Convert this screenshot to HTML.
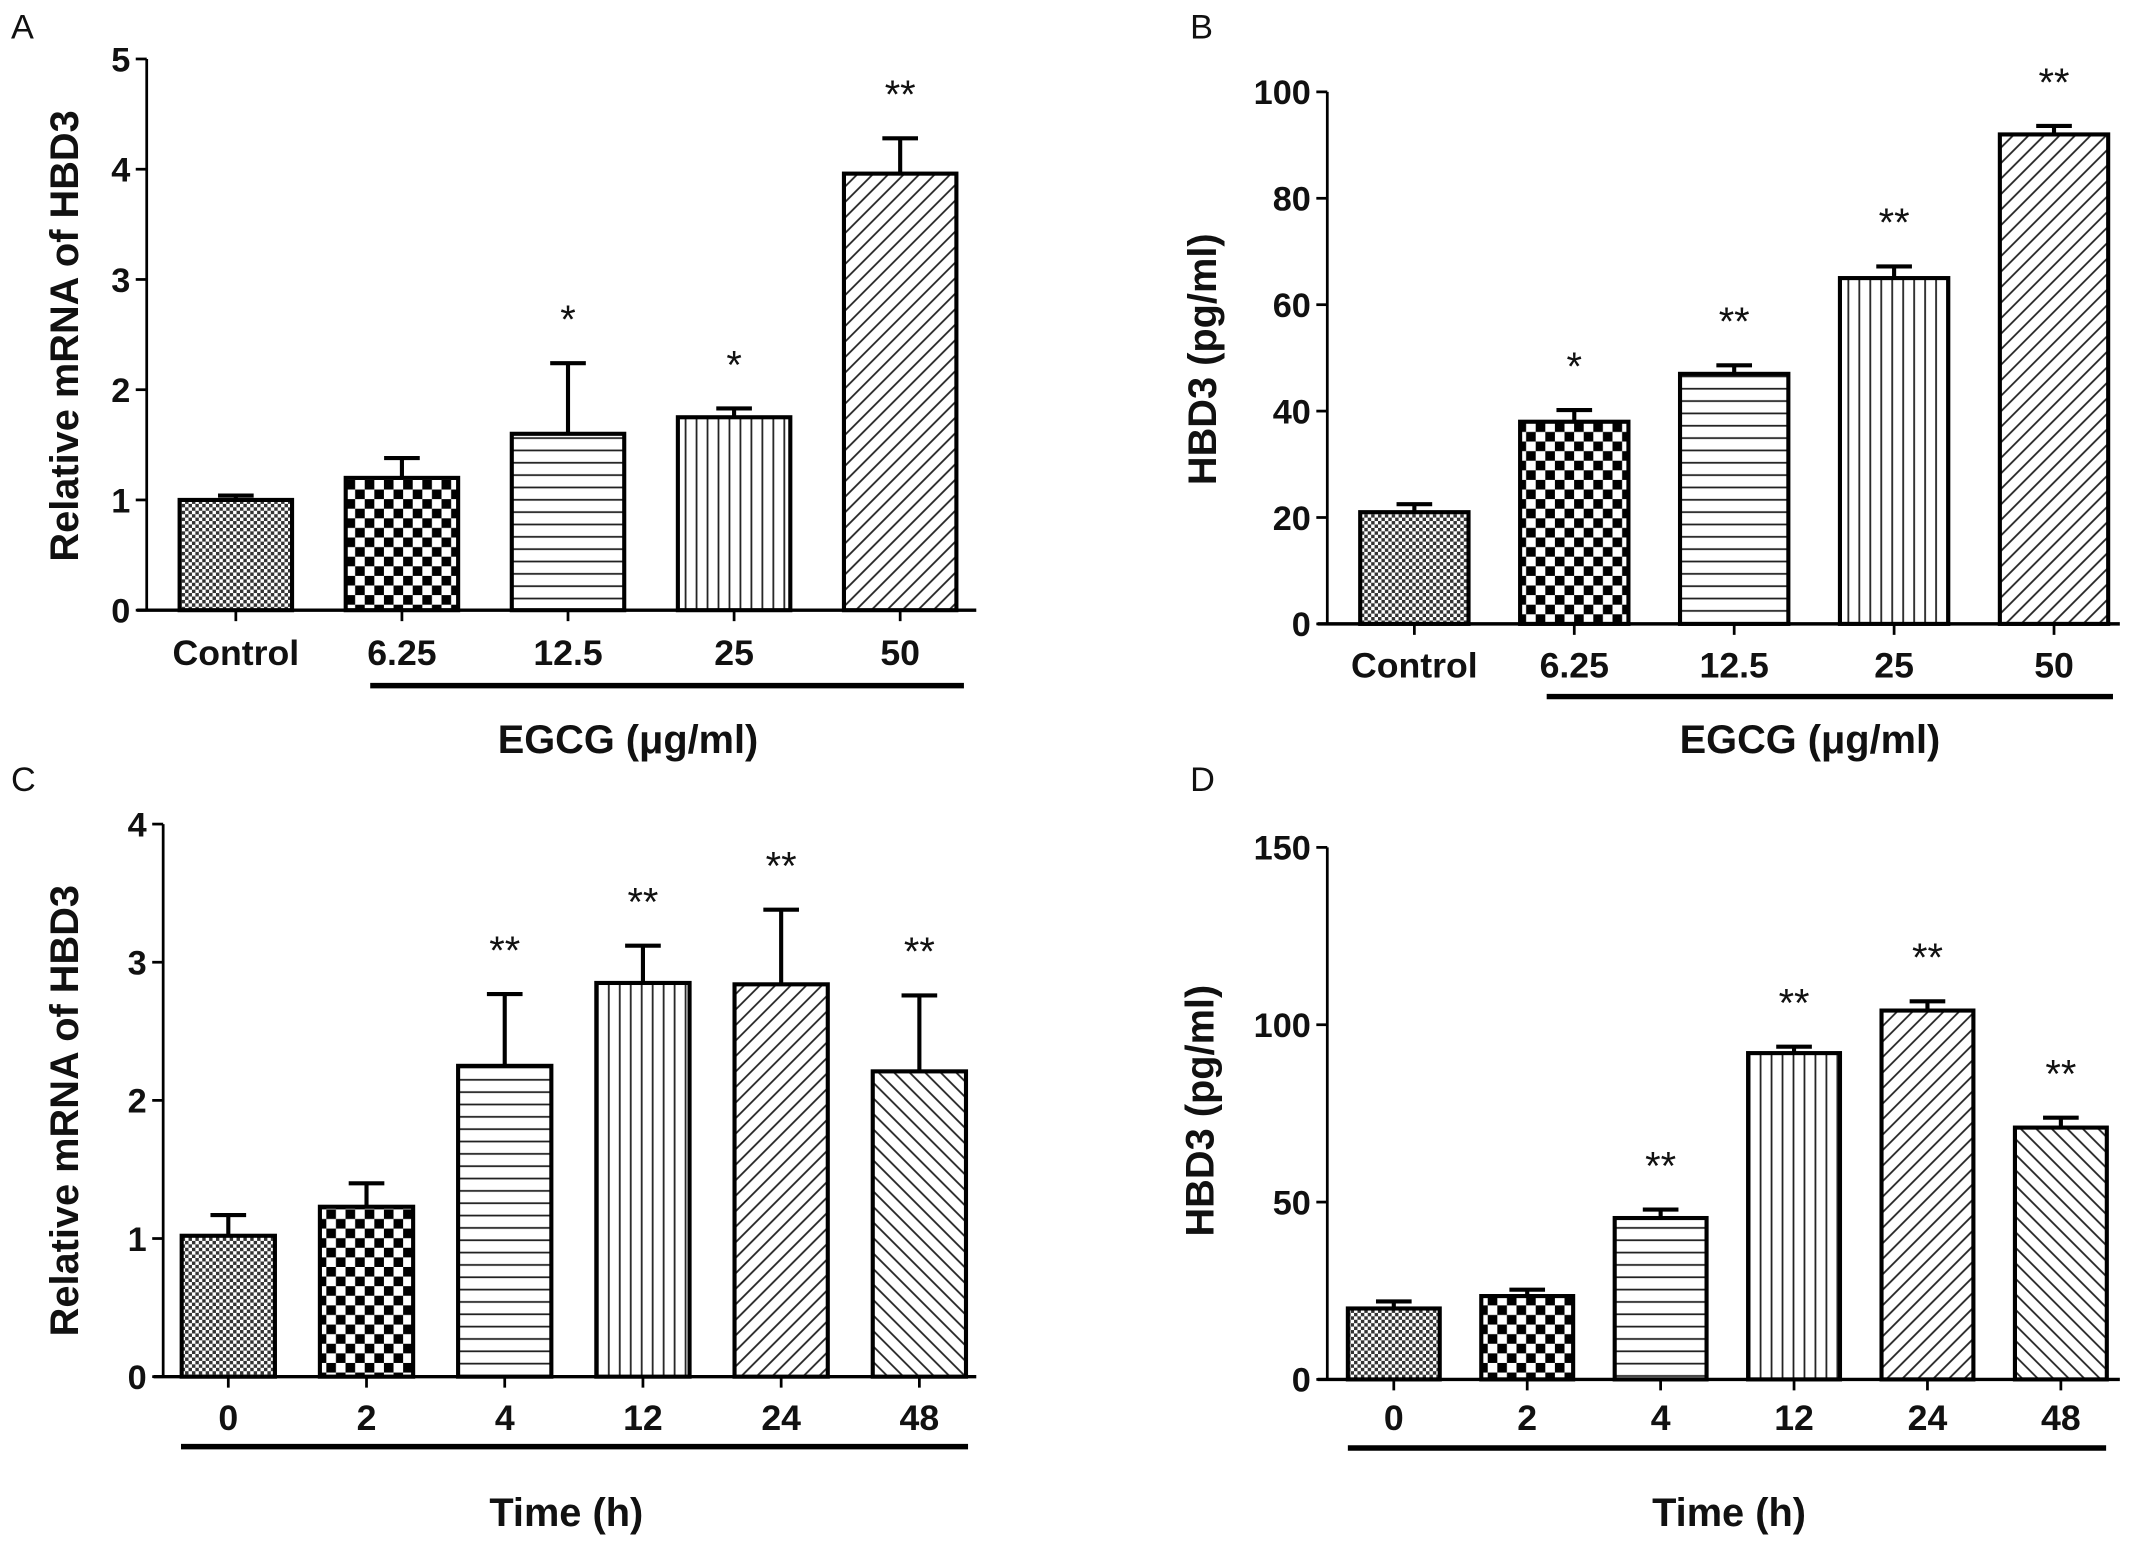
<!DOCTYPE html>
<html><head><meta charset="utf-8"><style>
html,body{margin:0;padding:0;background:#fff}
svg{display:block}
text{font-family:"Liberation Sans",Arial,sans-serif;fill:#111}
</style></head><body>
<svg id="fig" xmlns="http://www.w3.org/2000/svg" width="2150" height="1550" viewBox="0 0 1568 1130.4">
<defs>
<pattern id="p-dots" width="5" height="5" patternUnits="userSpaceOnUse"><rect width="5" height="5" fill="#fff"/><rect width="2.5" height="2.5" fill="#333"/><rect x="2.5" y="2.5" width="2.5" height="2.5" fill="#333"/></pattern>
<pattern id="p-check" width="14" height="14" patternUnits="userSpaceOnUse"><rect width="14" height="14" fill="#fff"/><rect width="7" height="7" fill="#000"/><rect x="7" y="7" width="7" height="7" fill="#000"/></pattern>
<pattern id="p-hline" width="10" height="9" patternUnits="userSpaceOnUse"><rect width="10" height="9" fill="#fff"/><line x1="0" y1="4.5" x2="10" y2="4.5" stroke="#222" stroke-width="1.3"/></pattern>
<pattern id="p-vline" width="8" height="10" patternUnits="userSpaceOnUse"><rect width="8" height="10" fill="#fff"/><line x1="4" y1="0" x2="4" y2="10" stroke="#222" stroke-width="1.3"/></pattern>
<pattern id="p-diag" width="8" height="8" patternUnits="userSpaceOnUse" patternTransform="rotate(45)"><rect width="8" height="8" fill="#fff"/><line x1="4" y1="0" x2="4" y2="8" stroke="#222" stroke-width="1.3"/></pattern>
<pattern id="p-back" width="8" height="8" patternUnits="userSpaceOnUse" patternTransform="rotate(-45)"><rect width="8" height="8" fill="#fff"/><line x1="4" y1="0" x2="4" y2="8" stroke="#222" stroke-width="1.3"/></pattern>
</defs>
</svg>
<script>
// Panel A
const catsA = ["Control","6.25","12.5","25","50"];
const valsA = [1.0,1.2,1.6,1.75,3.96];
const errsA = [0.04,0.18,0.64,0.08,0.32];
const starsA = ["","","*","*","**"];
const ticksA = [0,1,2,3,4,5];
// Panel B
const catsB = ["Control","6.25","12.5","25","50"];
const valsB = [21,38,47,65,92];
const errsB = [1.5,2.2,1.6,2.2,1.6];
const starsB = ["","*","**","**","**"];
const ticksB = [0,20,40,60,80,100];
// Panel C
const catsC = ["0","2","4","12","24","48"];
const valsC = [1.02,1.23,2.25,2.85,2.84,2.21];
const errsC = [0.15,0.17,0.52,0.27,0.54,0.55];
const starsC = ["","","**","**","**","**"];
const ticksC = [0,1,2,3,4];
// Panel D
const catsD = ["0","2","4","12","24","48"];
const valsD = [20,23.5,45.5,92,104,71];
const errsD = [2,1.8,2.4,1.8,2.6,2.8];
const starsD = ["","","**","**","**","**"];
const ticksD = [0,50,100,150];

const svg = document.getElementById('fig');
const NS = "http://www.w3.org/2000/svg";
function mk(tag, attrs, parent){const e=document.createElementNS(NS,tag);for(const k in attrs)e.setAttribute(k,attrs[k]);(parent||svg).appendChild(e);return e;}

function panel(cfg){
  const g = mk('g',{});
  
  
  const max = cfg.ticks[cfg.ticks.length-1];
  const y = v => cfg.y0 - (v/max)*(cfg.y0-cfg.yTop);
  const step = (cfg.bx1 - cfg.bx0)/ (cfg.cats.length-1);
  const x = i => cfg.bx0 + i*step;
  const L = mk('text',{x:cfg.letterX,y:cfg.letterY,'font-size':25},g); L.textContent=cfg.id;
  
  
  const ya = mk('line',{x1:cfg.ax,y1:cfg.yTop,x2:cfg.ax,y2:cfg.y0,stroke:'#000','stroke-width':2},g);
  
  
  cfg.ticks.forEach(t=>{
    mk('line',{x1:cfg.ax-8,y1:y(t),x2:cfg.ax,y2:y(t),stroke:'#000','stroke-width':2},g);
    const tt = mk('text',{x:cfg.ax-12,y:y(t)+9,'font-size':25,'text-anchor':'end','font-weight':'bold'},g);
    tt.textContent = t;
    
    
  });
  const xa = mk('line',{x1:cfg.ax-7,y1:cfg.y0,x2:cfg.axEnd,y2:cfg.y0,stroke:'#000','stroke-width':2.5},g);
  
  
  cfg.cats.forEach((c,i)=>{
    const cx = x(i);
    mk('line',{x1:cx,y1:cfg.y0,x2:cx,y2:cfg.y0+8,stroke:'#000','stroke-width':2},g);
    const v = cfg.vals[i], e = cfg.errs[i];
    mk('line',{x1:cx,y1:y(v),x2:cx,y2:y(v+e),stroke:'#000','stroke-width':3},g);
    mk('line',{x1:cx-13,y1:y(v+e),x2:cx+13,y2:y(v+e),stroke:'#000','stroke-width':3},g);
    const b = mk('rect',{x:cx-cfg.bw/2,y:y(v),width:cfg.bw,height:cfg.y0-y(v),fill:'url(#'+cfg.pats[i]+')',stroke:'#000','stroke-width':3},g);
    
    
    if(cfg.stars[i]){
      const s = mk('text',{x:cx,y:y(v+e)-cfg.starGap,'font-size':29,'text-anchor':'middle'},g);
      s.textContent = cfg.stars[i];
      
      
    }
    const lab = mk('text',{x:cx,y:cfg.labY,'font-size':26,'text-anchor':'middle','font-weight':'bold'},g);
    lab.textContent = c;
    
    
  });
  const ul = mk('line',{x1:cfg.ulX0,y1:cfg.ulY,x2:cfg.ulX1,y2:cfg.ulY,stroke:'#000','stroke-width':4},g);
  
  
  const xt = mk('text',{x:cfg.xtX,y:cfg.xtY,'font-size':29,'text-anchor':'middle','font-weight':'bold'},g);
  xt.textContent = cfg.xTitle;
  
  
  const yt = mk('text',{x:0,y:0,'font-size':29,'text-anchor':'middle','font-weight':'bold',transform:'translate('+cfg.ytX+','+cfg.ytY+') rotate(-90)'},g);
  yt.textContent = cfg.yTitle;
  
  
}

const pats5 = ['p-dots','p-check','p-hline','p-vline','p-diag'];
const pats6 = ['p-dots','p-check','p-hline','p-vline','p-diag','p-back'];
panel({id:'A',cats:catsA,vals:valsA,errs:errsA,stars:starsA,ticks:ticksA,pats:pats5,
  ax:107,axEnd:712,yTop:43,y0:445,bx0:172,bx1:656.5,bw:82,labY:485,starGap:22,
  ulX0:270,ulX1:703,ulY:500,xTitle:'EGCG (μg/ml)',xtX:458,xtY:549,yTitle:'Relative mRNA of HBD3',ytX:57,ytY:245,letterX:8,letterY:28});
panel({id:'B',cats:catsB,vals:valsB,errs:errsB,stars:starsB,ticks:ticksB,pats:pats5,
  ax:968,axEnd:1546,yTop:67,y0:455,bx0:1031.5,bx1:1498,bw:79,labY:494,starGap:22,
  ulX0:1128,ulX1:1541,ulY:508,xTitle:'EGCG (μg/ml)',xtX:1320,xtY:549,yTitle:'HBD3  (pg/ml)',ytX:887,ytY:262,letterX:868,letterY:28});
panel({id:'C',cats:catsC,vals:valsC,errs:errsC,stars:starsC,ticks:ticksC,pats:pats6,
  ax:119,axEnd:712,yTop:601,y0:1004,bx0:166.5,bx1:670.5,bw:68,labY:1043,starGap:22,
  ulX0:132,ulX1:706,ulY:1055,xTitle:'Time (h)',xtX:413,xtY:1113,yTitle:'Relative mRNA of HBD3',ytX:57,ytY:810,letterX:8,letterY:577});
panel({id:'D',cats:catsD,vals:valsD,errs:errsD,stars:starsD,ticks:ticksD,pats:pats6,
  ax:968,axEnd:1546,yTop:618,y0:1006,bx0:1016.5,bx1:1503,bw:67,labY:1043,starGap:22,
  ulX0:983,ulX1:1536,ulY:1056,xTitle:'Time (h)',xtX:1261,xtY:1113,yTitle:'HBD3  (pg/ml)',ytX:885,ytY:810,letterX:868,letterY:577});
</script>
</body></html>
